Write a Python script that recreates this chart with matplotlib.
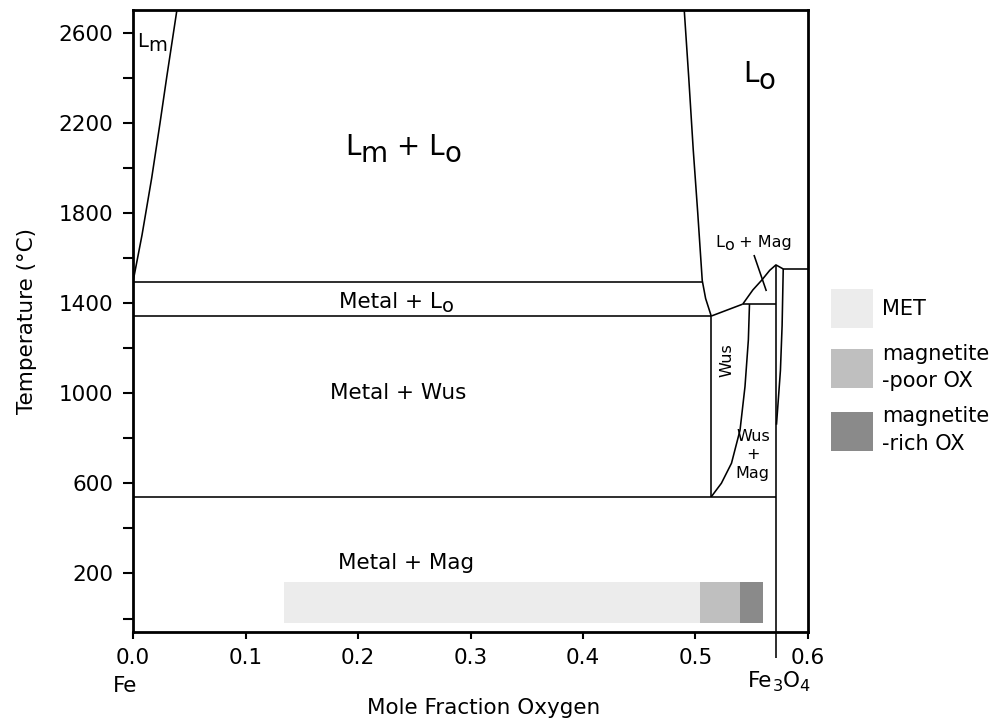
import matplotlib
matplotlib.use("Agg")
import matplotlib.pyplot as plt
from matplotlib.patches import Patch

plt.rcParams["font.family"] = ["DejaVu Sans"]

# ---- phase boundaries (x = mole fraction O, T in degC) ----
lm_liquidus_x = [0.0, 0.0080, 0.0166, 0.024, 0.030, 0.039]
lm_liquidus_t = [1495, 1702, 1955, 2199, 2404, 2700]

lo_liquidus_x = [0.490, 0.494, 0.498, 0.502, 0.506, 0.509, 0.514]
lo_liquidus_t = [2700, 2400, 2080, 1800, 1500, 1420, 1342]

monotectic_t = 1495
monotectic_x = [0.0, 0.506]
wus_liquidus_t = 1342
wus_liquidus_x = [0.0, 0.514]

wus_lo_x = [0.514, 0.542]
wus_lo_t = [1342, 1395]

mag_peritectic_t = 1395
mag_peritectic_x = [0.542, 0.5715]

mag_liquidus_x = [0.542, 0.551, 0.559, 0.566, 0.5715, 0.578]
mag_liquidus_t = [1395, 1458, 1502, 1545, 1569, 1551]

hem_line_t = 1551
hem_line_x = [0.578, 0.6]

mag_solvus_x = [0.578, 0.577, 0.5755, 0.572]
mag_solvus_t = [1551, 1300, 1100, 860]

fe3o4_x = 0.5715
fe3o4_t = [1569, -175]

wus_left_x = [0.514, 0.514]
wus_left_t = [1342, 540]

wus_right_x = [0.548, 0.547, 0.544, 0.5396, 0.532, 0.523, 0.514]
wus_right_t = [1395, 1236, 1029, 836, 689, 600, 540]

eutectoid_t = 540
eutectoid_x = [0.0, 0.5715]

pointer_x = [0.552, 0.563]
pointer_t = [1613, 1453]

# ---- sample composition bar ----
bar_names = ["MET", "magnetite\n-poor OX", "magnetite\n-rich OX"]
bar_left = [0.134, 0.504, 0.540]
bar_right = [0.504, 0.540, 0.560]
bar_tmin, bar_tmax = -20, 160
bar_colors = ["#ececec", "#bfbfbf", "#8a8a8a"]

yticks_major = [200, 600, 1000, 1400, 1800, 2200, 2600]
yticks_minor = [0, 400, 800, 1200, 1600, 2000, 2400]
xticks = [0.0, 0.1, 0.2, 0.3, 0.4, 0.5, 0.6]


def rich_text(ax, x, y, parts, size, sub_scale=0.9, drop=0.22):
    """Chain text pieces; parts = [(text, is_subscript), ...]."""
    prev = ax.text(x, y, parts[0][0], fontsize=size, ha="left", va="baseline")
    prev_sub = parts[0][1]
    for s, sub in parts[1:]:
        dy = 0
        if sub and not prev_sub:
            dy = -drop * size
        elif prev_sub and not sub:
            dy = drop * size
        fs = size * sub_scale if sub else size
        prev = ax.annotate(s, xy=(1, 0), xycoords=prev, xytext=(0, dy),
                           textcoords="offset points", fontsize=fs,
                           ha="left", va="bottom")
        prev_sub = sub


fig = plt.figure(figsize=(9.98, 7.21), dpi=100)
ax = fig.add_axes([0.1333, 0.1234, 0.6763, 0.8627])

lw = 1.15
kw = dict(color="black", lw=lw, solid_capstyle="butt", solid_joinstyle="round")
ax.plot(lm_liquidus_x, lm_liquidus_t, **kw)
ax.plot(lo_liquidus_x, lo_liquidus_t, **kw)
ax.plot(monotectic_x, [monotectic_t] * 2, **kw)
ax.plot(wus_liquidus_x, [wus_liquidus_t] * 2, **kw)
ax.plot(wus_lo_x, wus_lo_t, **kw)
ax.plot(mag_peritectic_x, [mag_peritectic_t] * 2, **kw)
ax.plot(mag_liquidus_x, mag_liquidus_t, **kw)
ax.plot(hem_line_x, [hem_line_t] * 2, **kw)
ax.plot(mag_solvus_x, mag_solvus_t, **kw)
ax.plot([fe3o4_x] * 2, fe3o4_t, clip_on=False, **kw)
ax.plot(wus_left_x, wus_left_t, **kw)
ax.plot(wus_right_x, wus_right_t, **kw)
ax.plot(eutectoid_x, [eutectoid_t] * 2, **kw)
ax.plot(pointer_x, pointer_t, **kw)

for name, l, r, c in zip(bar_names, bar_left, bar_right, bar_colors):
    ax.barh((bar_tmin + bar_tmax) / 2, r - l, left=l, height=bar_tmax - bar_tmin,
            color=c, edgecolor="none", zorder=0)

# region labels
rich_text(ax, 0.0036, 2536, [("L", False), ("m", True)], 14, sub_scale=1.0, drop=0.2)
rich_text(ax, 0.1884, 2057, [("L", False), ("m", True), (" + L", False), ("o", True)],
          20, sub_scale=1.0, drop=0.24)
rich_text(ax, 0.5422, 2380, [("L", False), ("o", True)], 20, sub_scale=1.0, drop=0.24)
rich_text(ax, 0.1831, 1378, [("Metal + L", False), ("o", True)], 15.5, sub_scale=0.9, drop=0.2)
rich_text(ax, 0.5173, 1648, [("L", False), ("o", True), (" + Mag", False)], 11.5,
          sub_scale=1.0, drop=0.2)
ax.text(0.236, 1001, "Metal + Wus", fontsize=15.5, ha="center", va="center")
ax.text(0.243, 246, "Metal + Mag", fontsize=15.5, ha="center", va="center")
ax.text(0.528, 1147, "Wus", fontsize=11.5, rotation=90, ha="center", va="center")
ax.text(0.551, 726, "Wus\n+\nMag", fontsize=11.5, ha="center", va="center", linespacing=1.3)
ax.text(-0.007, -300, "Fe", fontsize=15.5, ha="center", va="center")
rich_text(ax, 0.5467, -304, [("Fe", False), ("3", True), ("O", False), ("4", True)],
          15.5, sub_scale=0.75, drop=0.16)

ax.set_xlim(0, 0.6)
ax.set_ylim(-60, 2700)
ax.set_xticks(xticks)
ax.set_xticklabels([f"{v:.1f}" for v in xticks])
ax.set_yticks(yticks_major)
ax.set_yticks(yticks_minor, minor=True)
ax.tick_params(axis="both", labelsize=15.5, width=1.5, direction="out", pad=6.5)
ax.tick_params(axis="y", which="both", length=7.5, width=1.5)
ax.tick_params(axis="x", length=5)
for sp in ax.spines.values():
    sp.set_linewidth(2)

ax.set_xlabel("Mole Fraction Oxygen", fontsize=15.5)
ax.xaxis.set_label_coords(0.519, -0.106)
ax.set_ylabel("Temperature (\u00b0C)", fontsize=15.5)
ax.yaxis.set_label_coords(-0.142, 0.5)

handles = [Patch(facecolor=c, edgecolor="none") for c in bar_colors]
leg = fig.legend(handles, bar_names, loc="upper left",
                 bbox_to_anchor=(831 / 998, 1 - 289 / 721),
                 frameon=False, fontsize=15, borderpad=0, borderaxespad=0,
                 handlelength=2.0, handleheight=2.5, handletextpad=0.45,
                 labelspacing=0.75)
for t in leg.get_texts():
    t.set_linespacing(1.45)

fig.savefig("out.png", dpi=100)
